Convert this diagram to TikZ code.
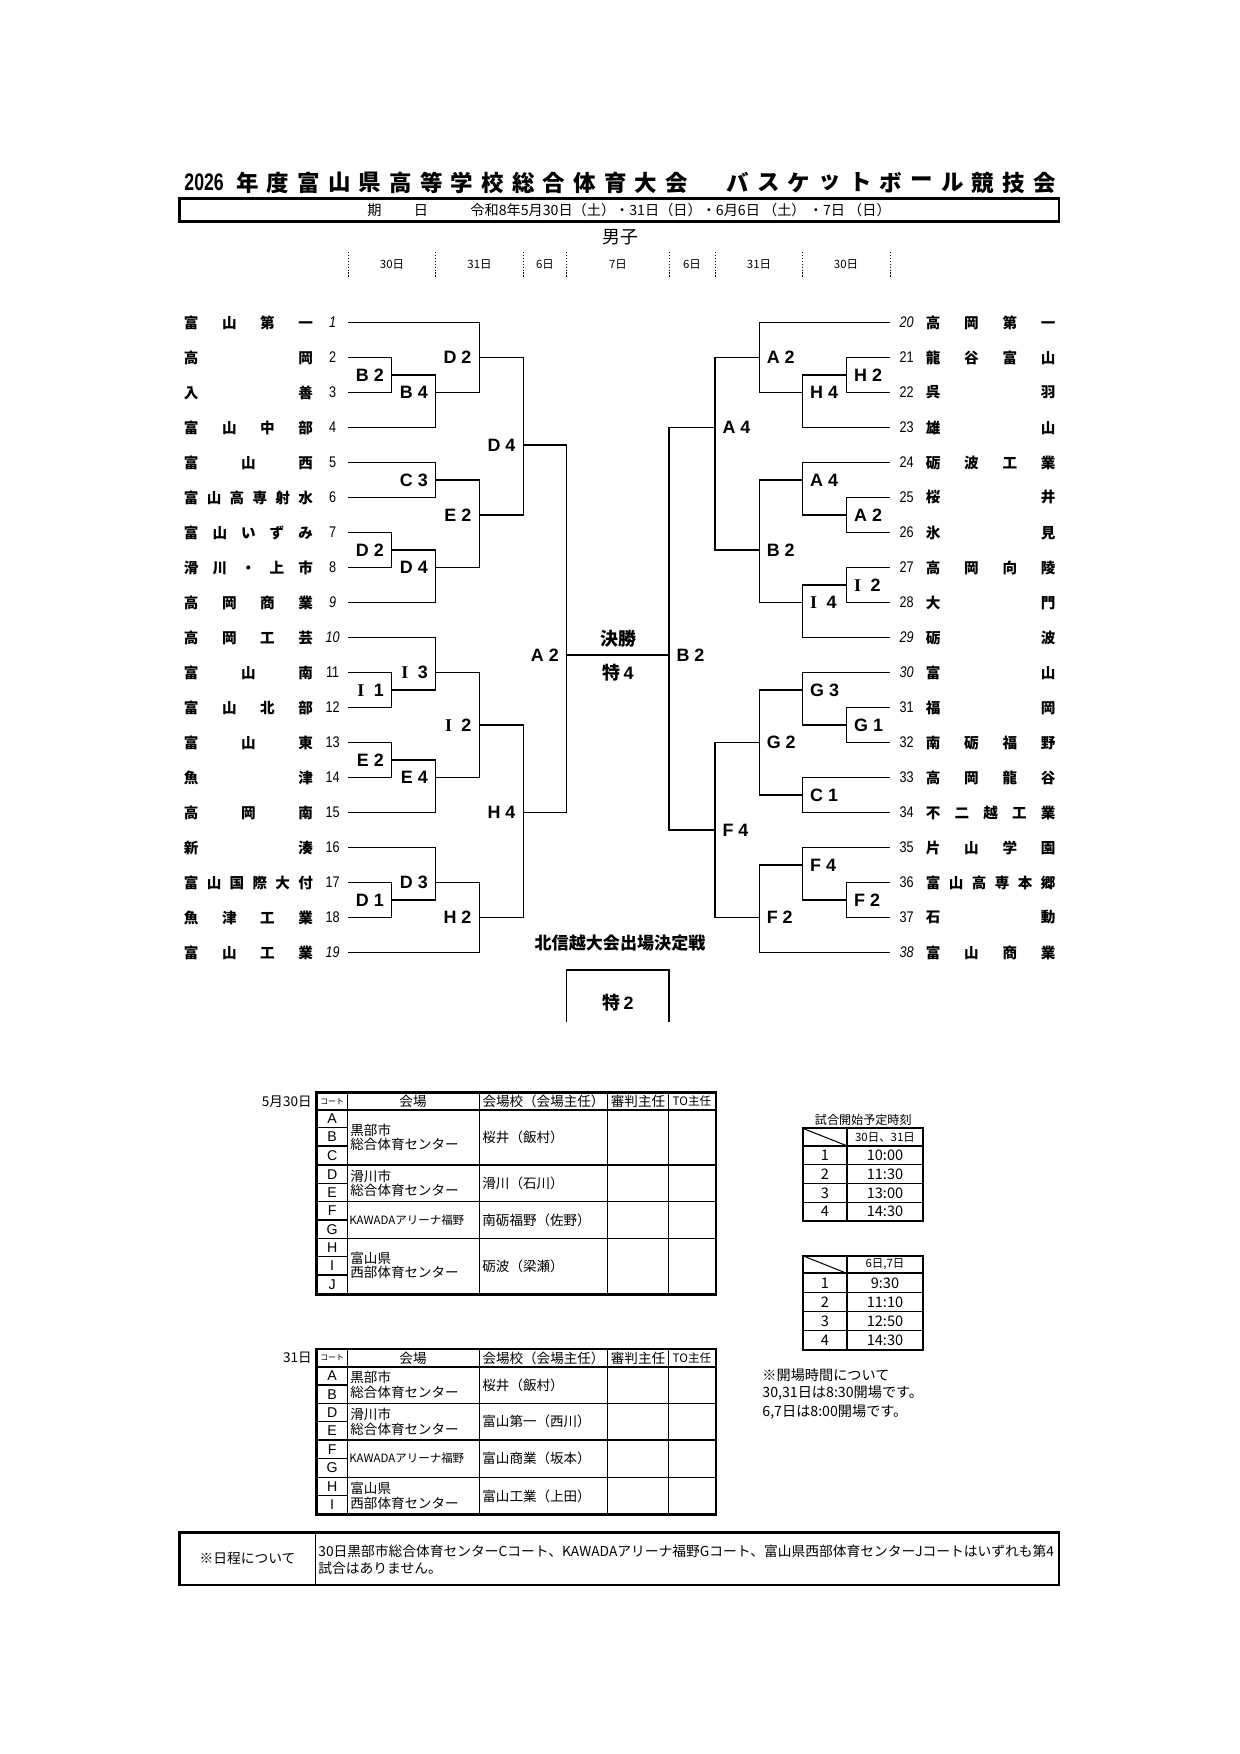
\documentclass[tikz,border=0pt]{standalone}
\usepackage{fontspec}
\setmainfont{Noto Sans CJK JP}
\newfontfamily\lat{Liberation Sans}
\newfontfamily\serf{Liberation Serif}
\newfontfamily\narrow{Liberation Sans}[FakeStretch=0.82]
\newfontfamily\narrowt{Liberation Sans}[FakeStretch=0.74]
\def\sprEnd{SPREND}
\def\gobbleone#1{}
\def\spr#1{\sprA#1\sprEnd}
\def\sprA#1#2{#1\ifx\sprEnd#2\expandafter\gobbleone\else\hfill\expandafter\sprA\fi{#2}}
\newcommand\mL[6]{\coordinate (#1) at (#2,#3);
  \draw[br] (#4) -- (#4 -| #1) -- (#5 -| #1) -- (#5);
  \node[blbl,anchor=east] (l#1) at ([xshift=-3.6pt]#1) {#6};}
\newcommand\mR[6]{\coordinate (#1) at (#2,#3);
  \draw[br] (#4) -- (#4 -| #1) -- (#5 -| #1) -- (#5);
  \node[blbl,anchor=west] (l#1) at ([xshift=3.4pt]#1) {#6};}
\newcommand\II{{\serf I}\hspace{4.5pt}}
\begin{document}
\begin{tikzpicture}[x=0.48pt,y=-0.48pt,
  br/.style={line width=0.6pt},
  tname/.style={inner sep=0pt,font=\bfseries\fontsize{7}{7}\selectfont},
  tnum/.style={inner sep=0pt,font=\narrow\fontsize{7.4}{8}\selectfont},
  blbl/.style={inner sep=0pt,font=\lat\bfseries\fontsize{8.6}{9}\selectfont},
  ctr/.style={inner sep=0pt,font=\bfseries\fontsize{8.6}{9}\selectfont},
  ttl/.style={inner sep=0pt,font=\bfseries\fontsize{10.8}{11}\selectfont},
  txt/.style={inner sep=0pt,font=\fontsize{6.5}{7}\selectfont},
  two/.style={inner sep=0pt,align=left,anchor=west,font=\fontsize{6.5}{7}\selectfont},
  small/.style={inner sep=0pt,font=\fontsize{5.5}{6}\selectfont},
  daysep/.style={line width=0.4pt,dash pattern=on 0.7pt off 0.7pt},
  thickb/.style={line width=1.3pt},
  thinl/.style={line width=0.5pt},
  medl/.style={line width=0.9pt}]
\fill[white] (0,0) rectangle (1240,1754);
\useasboundingbox (0,0) rectangle (1240,1754);

% ---------- title ----------
\node[ttl,anchor=west] (y2026) at (184,182.5) {\narrowt\bfseries\fontsize{11.5}{12}\selectfont 2026};
\foreach \c [count=\k from 0] in {年,度,富,山,県,高,等,学,校,総,合,体,育,大,会}
  \node[ttl] (ta\k) at ({247.5+30.65*\k},182.5) {\c};
\foreach \c [count=\k from 0] in {バ,ス,ケ,ッ,ト,ボ,ー,ル,競,技,会}
  \node[ttl] (tb\k) at ({737.9+30.65*\k},182.5) {\c};

\draw[thickb] (179.3,198.3) rectangle (1059,221.7);
\node[txt,font=\fontsize{6.8}{7}\selectfont] (ki) at (374.5,210.5) {期};
\node[txt,font=\fontsize{6.8}{7}\selectfont] (bi) at (421,210.5) {日};
\node[txt,anchor=west,font=\fontsize{6.8}{7}\selectfont] (date) at (470,210.5) {令和8年5月30日（土）・31日（日）・6月6日 （土） ・7日 （日）};
\node[inner sep=0pt,font=\fontsize{8.6}{9}\selectfont] (danshi) at (620,237) {男子};

\foreach \x in {348.3,435.7,523.3,566.7,669,715,802.7,890}
  \draw[daysep] (\x,252) -- (\x,277);
\foreach \x/\t [count=\k] in {392/30日,479.5/31日,545/6日,618/7日,692/6日,759/31日,846/30日}
  \node[small] (day\k) at (\x,264) {\t};

% ---------- teams ----------
\foreach \i/\nm/\s in {1/富山第一/1,2/高岡/0,3/入善/0,4/富山中部/0,5/富山西/0,6/富山高専射水/0,7/富山いずみ/0,8/滑川・上市/0,9/高岡商業/1,10/高岡工芸/1,11/富山南/0,12/富山北部/0,13/富山東/0,14/魚津/0,15/高岡南/0,16/新湊/0,17/富山国際大付/0,18/魚津工業/0,19/富山工業/1}{
  \pgfmathsetmacro\yy{322.5+35*(\i-1)}
  \node[tname,anchor=west] (n\i) at (183.5,\yy) {\makebox[61.9pt][s]{\expandafter\spr\expandafter{\nm}}};
  \node[tnum] (k\i) at (332.7,\yy) {\ifnum\s=1 \itshape\fi\i};
  \coordinate (t\i) at (348.3,\yy);
}
\foreach \i/\nm/\s in {20/高岡第一/1,21/龍谷富山/0,22/呉羽/0,23/雄山/0,24/砺波工業/0,25/桜井/0,26/氷見/0,27/高岡向陵/0,28/大門/0,29/砺波/1,30/富山/1,31/福岡/0,32/南砺福野/0,33/高岡龍谷/0,34/不二越工業/0,35/片山学園/0,36/富山高専本郷/0,37/石動/0,38/富山商業/1}{
  \pgfmathsetmacro\yy{322.5+35*(\i-20)}
  \node[tname,anchor=west] (n\i) at (925.5,\yy) {\makebox[62.2pt][s]{\expandafter\spr\expandafter{\nm}}};
  \node[tnum] (k\i) at (906.7,\yy) {\ifnum\s=1 \itshape\fi\i};
  \coordinate (t\i) at (890,\yy);
}

% ---------- left bracket ----------
\mL{LB2}{391.7}{375}{t2}{t3}{B 2}
\mL{LB4}{435.7}{392.5}{LB2}{t4}{B 4}
\mL{LD2a}{479.3}{357.5}{t1}{LB4}{D 2}
\mL{LC3}{435.7}{480}{t5}{t6}{C 3}
\mL{LD2b}{391.7}{550}{t7}{t8}{D 2}
\mL{LD4a}{435.7}{567.5}{LD2b}{t9}{D 4}
\mL{LE2a}{479.3}{515}{LC3}{LD4a}{E 2}
\mL{LD4b}{523.3}{445}{LD2a}{LE2a}{D 4}
\mL{LI1}{391.7}{690}{t11}{t12}{\II 1}
\mL{LI3}{435.7}{672.5}{t10}{LI1}{\II 3}
\mL{LE2b}{391.7}{760}{t13}{t14}{E 2}
\mL{LE4}{435.7}{777.5}{LE2b}{t15}{E 4}
\mL{LI2}{479.3}{725}{LI3}{LE4}{\II 2}
\mL{LD1}{391.7}{900}{t17}{t18}{D 1}
\mL{LD3}{435.7}{882.5}{t16}{LD1}{D 3}
\mL{LH2}{479.3}{917.5}{LD3}{t19}{H 2}
\mL{LH4}{523.3}{812.5}{LI2}{LH2}{H 4}
\mL{LA2}{566.7}{655}{LD4b}{LH4}{A 2}

% ---------- right bracket ----------
\mR{RH2}{846.7}{375}{t21}{t22}{H 2}
\mR{RH4}{802.7}{392.5}{RH2}{t23}{H 4}
\mR{RA2a}{759.3}{357.5}{t20}{RH4}{A 2}
\mR{RA2b}{846.7}{515}{t25}{t26}{A 2}
\mR{RA4a}{802.7}{480}{t24}{RA2b}{A 4}
\mR{RI2}{846.7}{585}{t27}{t28}{\II 2}
\mR{RI4}{802.7}{602.5}{RI2}{t29}{\II 4}
\mR{RB2a}{759.3}{550}{RA4a}{RI4}{B 2}
\mR{RA4b}{715}{427.5}{RA2a}{RB2a}{A 4}
\mR{RG1}{846.7}{725}{t31}{t32}{G 1}
\mR{RG3}{802.7}{690}{t30}{RG1}{G 3}
\mR{RC1}{802.7}{795}{t33}{t34}{C 1}
\mR{RG2}{759.3}{742.5}{RG3}{RC1}{G 2}
\mR{RF2a}{846.7}{900}{t36}{t37}{F 2}
\mR{RF4a}{802.7}{865}{t35}{RF2a}{F 4}
\mR{RF2b}{759.3}{917.5}{RF4a}{t38}{F 2}
\mR{RF4b}{715}{830}{RG2}{RF2b}{F 4}
\mR{RB2}{669}{655}{RA4b}{RF4b}{B 2}

% ---------- final ----------
\draw[br] (LA2) -- (RB2);
\node[ctr] (kessho) at (618,639) {決勝};
\node[ctr] (toku4) at (618,673) {特\hspace{1.5pt}{\lat 4}};
\node[ctr,font=\bfseries\fontsize{8.2}{9}\selectfont] (hokushin) at (620,943) {北信越大会出場決定戦};
\coordinate (k2a) at (566.7,1022);
\coordinate (k2b) at (669,1022);
\draw[br] (k2a) -- ++(0,-52) -| (k2b);
\node[ctr] (toku2) at (618,1003) {特\hspace{1.5pt}{\lat 2}};

% ---------- table 5/30 ----------
\node[txt,anchor=east] (d530) at (312,1101.3) {5月30日};
\draw[medl] (316.7,1110) -- (716,1110);
\foreach \x in {347.7,479.3,607.7,668.3} \draw[thinl] (\x,1092.7) -- (\x,1294.3);
\foreach \y in {1127.7,1146,1183.3,1220,1256.7,1275} \draw[thinl] (316.7,\y) -- (347.7,\y);
\foreach \y in {1165,1201.7,1238.3} \draw[thinl] (316.7,\y) -- (716,\y);
\draw[thickb] (316.7,1092.7) rectangle (716,1294.3);
\node[inner sep=0pt,font=\fontsize{3.8}{4}\selectfont] (ha1) at (332.2,1101.3) {コート};
\node[txt] (ha2) at (413,1101.3) {会場};
\node[txt] (ha3) at (543.5,1101.3) {会場校（会場主任）};
\node[txt] (ha4) at (638,1101.3) {審判主任};
\node[txt,font=\fontsize{5.6}{6}\selectfont] (ha5) at (692,1101.3) {TO主任};
\foreach \c/\y in {A/1118.9,B/1136.9,C/1155.5,D/1174.2,E/1192.5,F/1210.9,G/1229.2,H/1247.5,I/1265.9,J/1284.7}
  \node[txt,font=\lat\fontsize{6.8}{7}\selectfont] (ca\c) at (332.2,\y) {\c};
\node[two] (va1) at (350,1137.5) {黒部市\\総合体育センター};
\node[two] (va2) at (350,1183.3) {滑川市\\総合体育センター};
\node[txt,anchor=west,font=\fontsize{5.5}{6}\selectfont] (va3) at (349,1220) {KAWADAアリーナ福野};
\node[two] (va4) at (350,1265.5) {富山県\\西部体育センター};
\node[txt,anchor=west] (sa1) at (482,1137.5) {桜井（飯村）};
\node[txt,anchor=west] (sa2) at (482,1183.3) {滑川（石川）};
\node[txt,anchor=west] (sa3) at (482,1220) {南砺福野（佐野）};
\node[txt,anchor=west] (sa4) at (482,1266.3) {砺波（梁瀬）};

% ---------- table 31 ----------
\node[txt,anchor=east] (d31) at (312,1358) {31日};
\draw[medl] (316.7,1366.7) -- (716,1366.7);
\foreach \x in {347.7,479.3,607.7,668.3} \draw[thinl] (\x,1349) -- (\x,1514.3);
\foreach \y in {1385,1421.7,1458.3,1495.7} \draw[thinl] (316.7,\y) -- (347.7,\y);
\foreach \y in {1403.3,1440,1477.3} \draw[thinl] (316.7,\y) -- (716,\y);
\draw[thickb] (316.7,1349) rectangle (716,1514.3);
\node[inner sep=0pt,font=\fontsize{3.8}{4}\selectfont] (hb1) at (332.2,1358) {コート};
\node[txt] (hb2) at (413,1358) {会場};
\node[txt] (hb3) at (543.5,1358) {会場校（会場主任）};
\node[txt] (hb4) at (638,1358) {審判主任};
\node[txt,font=\fontsize{5.6}{6}\selectfont] (hb5) at (692,1358) {TO主任};
\foreach \c/\y in {A/1375.9,B/1394.2,D/1412.5,E/1430.9,F/1449.2,G/1467.8,H/1486.5,I/1505}
  \node[txt,font=\lat\fontsize{6.8}{7}\selectfont] (cb\c) at (332.2,\y) {\c};
\node[two] (vb1) at (350,1385) {黒部市\\総合体育センター};
\node[two] (vb2) at (350,1421.7) {滑川市\\総合体育センター};
\node[txt,anchor=west,font=\fontsize{5.5}{6}\selectfont] (vb3) at (349,1458.5) {KAWADAアリーナ福野};
\node[two] (vb4) at (350,1496) {富山県\\西部体育センター};
\node[txt,anchor=west] (sb1) at (482,1385) {桜井（飯村）};
\node[txt,anchor=west] (sb2) at (482,1421.7) {富山第一（西川）};
\node[txt,anchor=west] (sb3) at (482,1458.8) {富山商業（坂本）};
\node[txt,anchor=west] (sb4) at (482,1496) {富山工業（上田）};

% ---------- time tables ----------
\node[txt,font=\fontsize{5.8}{6}\selectfont] (jikoku) at (863.3,1120) {試合開始予定時刻};
\draw[thinl] (802.7,1128.3) -- (846.7,1145.7);
\foreach \y in {1164.3,1183.3,1202.3} \draw[line width=0.7pt] (802.7,\y) -- (922.7,\y);
\draw[medl] (802.7,1145.7) -- (922.7,1145.7);
\draw[medl] (846.7,1128.3) -- (846.7,1221);
\draw[line width=1.1pt] (802.7,1128.3) rectangle (922.7,1221);
\node[small] (tha) at (885,1137) {30日、31日};
\foreach \n/\t/\y in {1/10:00/1155,2/11:30/1173.8,3/13:00/1192.8,4/14:30/1211.7}{
  \node[txt,font=\fontsize{7}{7}\selectfont] (ta-n\n) at (825,\y) {\n};
  \node[txt,font=\fontsize{7}{7}\selectfont] (ta-t\n) at (885,\y) {\t};
}
\draw[thinl] (802.7,1255.7) -- (846.7,1273.3);
\foreach \y in {1292.3,1311.7,1330.7} \draw[line width=0.7pt] (802.7,\y) -- (922.7,\y);
\draw[medl] (802.7,1273.3) -- (922.7,1273.3);
\draw[medl] (846.7,1255.7) -- (846.7,1350);
\draw[line width=1.1pt] (802.7,1255.7) rectangle (922.7,1350);
\node[small] (thb) at (885,1264.5) {6日,7日};
\foreach \n/\t/\y in {1/9:30/1282.8,2/11:10/1302,3/12:50/1321.2,4/14:30/1340.4}{
  \node[txt,font=\fontsize{7}{7}\selectfont] (tb-n\n) at (825,\y) {\n};
  \node[txt,font=\fontsize{7}{7}\selectfont] (tb-t\n) at (885,\y) {\t};
}
\node[txt,anchor=west,font=\fontsize{6.8}{7}\selectfont] (op1) at (762,1375) {※開場時間について};
\node[txt,anchor=west,font=\fontsize{6.8}{7}\selectfont] (op2) at (762,1393.3) {30,31日は8:30開場です。};
\node[txt,anchor=west,font=\fontsize{6.8}{7}\selectfont] (op3) at (762,1411.7) {6,7日は8:00開場です。};

% ---------- note box ----------
\draw[thinl] (315.7,1532.3) -- (315.7,1585);
\draw[thickb] (179.3,1532.3) rectangle (1059,1585);
\node[txt,font=\fontsize{6.6}{8}\selectfont] (nt1) at (247.5,1558.5) {※日程について};
\node[inner sep=0pt,anchor=west,align=left,font=\fontsize{6.6}{8}\selectfont] (nt2) at (318,1560) {30日黒部市総合体育センターCコート、KAWADAアリーナ福野Gコート、富山県西部体育センターJコートはいずれも第4\\試合はありません。};
\end{tikzpicture}
\end{document}
